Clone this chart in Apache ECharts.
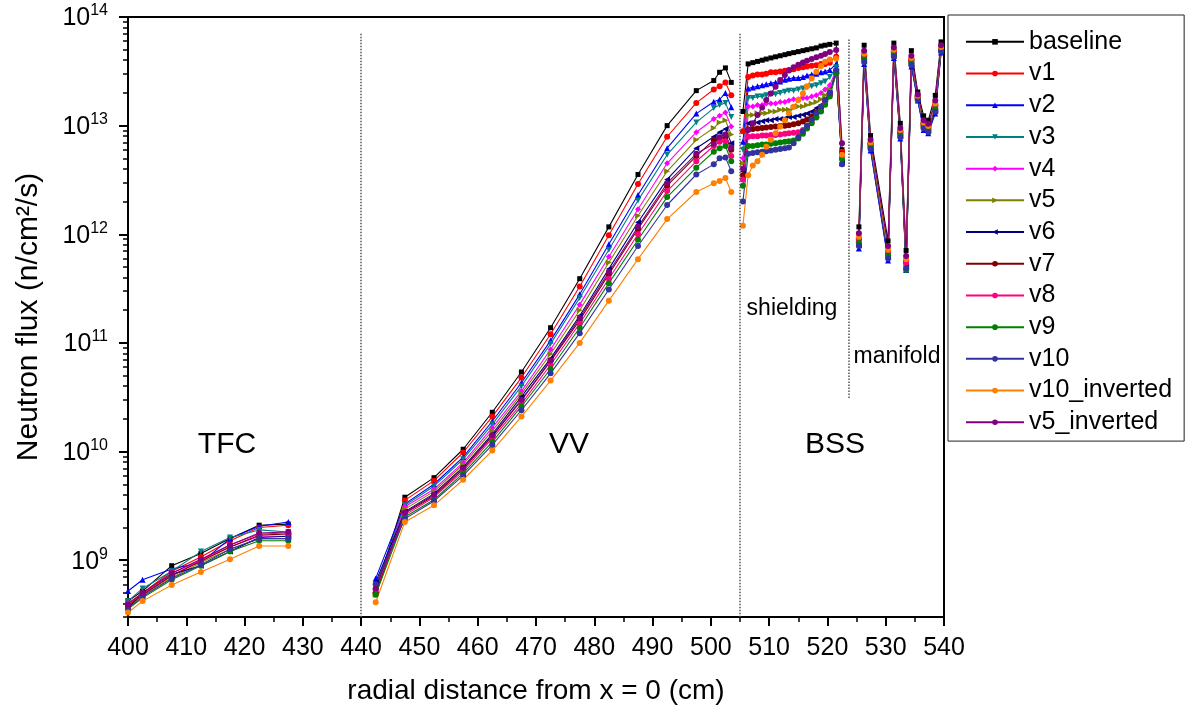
<!DOCTYPE html>
<html>
<head>
<meta charset="utf-8">
<title>Neutron flux</title>
<script src="https://cdn.jsdelivr.net/npm/echarts@6/dist/echarts.min.js"></script>
<style>
  html, body { margin: 0; padding: 0; background: #fff; }
  #chart { width: 1188px; height: 713px; }
</style>
</head>
<body>
<div id="chart"></div>
<script>
// radial positions (cm); 435 / 504.5 / 524 are gaps between the zones
const radius = [
  400, 402.5, 407.5, 412.5, 417.5, 422.5, 427.5, 435,
  442.5, 447.5, 452.5, 457.5, 462.5, 467.5, 472.5, 477.5, 482.5, 487.5, 492.5, 497.5, 500.5, 501.5, 502.5, 503.5, 504.5,
  505.5, 506.4, 507.2, 508.0, 508.8, 509.5, 510.3, 511.1, 511.9, 512.7, 513.4, 514.2, 515.0, 515.8, 516.5, 517.3, 518.1, 518.9, 519.6, 520.4, 521.5, 522.5, 524,
  525.4, 526.3, 527.4, 530.4, 531.4, 532.5, 533.5, 534.4, 535.5, 536.5, 537.3, 538.5, 539.5
];

// flux values per configuration (TFC | VV | shielding | manifold)
const baseline = [
  4.2e8, 5.2e8, 8.9e8, 1.15e9, 1.58e9, 2.1e9, 2.15e9, null,
  5.2e8, 3.8e9, 5.75e9, 1.05e10, 2.3e10, 5.4e10, 1.38e11, 3.9e11, 1.17e12, 3.55e12, 1.0e13, 2.1e13, 2.6e13, 3.1e13, 3.4e13, 2.5e13, null,
  1.35e13, 3.7e13, 3.8e13, 3.9e13, 4.0e13, 4.1e13, 4.2e13, 4.3e13, 4.4e13, 4.5e13, 4.6e13, 4.7e13, 4.8e13, 4.9e13, 5.0e13, 5.1e13, 5.2e13, 5.4e13, 5.5e13, 5.6e13, 5.75e13, 6.0e12, null,
  1.17e12, 5.5e13, 8.1e12, 8.7e11, 5.75e13, 1.05e13, 7.1e11, 4.9e13, 2.04e13, 1.23e13, 1.12e13, 1.9e13, 5.9e13
];
const v1 = [
  4.0e8, 5.0e8, 7.9e8, 1.07e9, 1.51e9, 2.0e9, 2.1e9, null,
  5.0e8, 3.55e9, 5.4e9, 9.8e9, 2.1e10, 4.8e10, 1.2e11, 3.3e11, 9.8e11, 2.9e12, 7.9e12, 1.62e13, 2.15e13, 2.3e13, 2.5e13, 1.9e13, null,
  8.9e12, 2.8e13, 2.9e13, 2.95e13, 2.95e13, 3.0e13, 3.1e13, 3.1e13, 3.15e13, 3.2e13, 3.25e13, 3.3e13, 3.4e13, 3.45e13, 3.5e13, 3.55e13, 3.6e13, 3.7e13, 3.7e13, 3.8e13, 4.3e13, 5.75e12, null,
  9.3e11, 4.5e13, 6.9e12, 7.1e11, 4.9e13, 8.9e12, 5.75e11, 4.1e13, 1.86e13, 1.06e13, 9.8e12, 1.57e13, 5.25e13
];
const v2 = [
  5.2e8, 6.6e8, 8.3e8, 9.5e8, 1.58e9, 2.05e9, 2.25e9, null,
  6.8e8, 3.3e9, 5.0e9, 8.9e9, 1.9e10, 4.3e10, 1.05e11, 2.8e11, 8.1e11, 2.3e12, 6.2e12, 1.29e13, 1.66e13, 1.74e13, 2.0e13, 1.48e13, null,
  7.1e12, 2.2e13, 2.25e13, 2.3e13, 2.35e13, 2.4e13, 2.45e13, 2.5e13, 2.55e13, 2.65e13, 2.7e13, 2.75e13, 2.75e13, 2.8e13, 2.9e13, 2.95e13, 3.0e13, 3.1e13, 3.15e13, 3.25e13, 3.7e13, 4.5e12, null,
  7.4e11, 3.7e13, 5.9e12, 5.75e11, 4.2e13, 7.6e12, 4.7e11, 3.5e13, 1.7e13, 9.1e12, 8.5e12, 1.29e13, 4.7e13
];
const v3 = [
  4.2e8, 5.5e8, 7.9e8, 1.2e9, 1.62e9, 1.9e9, 1.82e9, null,
  5.75e8, 3.2e9, 4.8e9, 8.5e9, 1.78e10, 4.0e10, 9.8e10, 2.6e11, 7.2e11, 2.05e12, 5.4e12, 1.07e13, 1.45e13, 1.55e13, 1.62e13, 1.2e13, null,
  6.0e12, 1.8e13, 1.8e13, 1.85e13, 1.85e13, 1.9e13, 1.95e13, 1.95e13, 2.0e13, 2.05e13, 2.1e13, 2.1e13, 2.15e13, 2.2e13, 2.25e13, 2.3e13, 2.35e13, 2.45e13, 2.55e13, 2.8e13, 3.45e13, 5.0e12, null,
  8.5e11, 4.2e13, 6.5e12, 6.5e11, 4.6e13, 8.35e12, 5.3e11, 3.85e13, 1.8e13, 1.0e13, 9.25e12, 1.45e13, 5.0e13
];
const v4 = [
  3.8e8, 4.8e8, 7.2e8, 1.0e9, 1.32e9, 1.66e9, 1.66e9, null,
  5.2e8, 3.1e9, 4.5e9, 7.9e9, 1.66e10, 3.6e10, 8.7e10, 2.25e11, 6.2e11, 1.7e12, 4.5e12, 8.7e12, 1.15e13, 1.23e13, 1.32e13, 9.8e12, null,
  5.0e12, 1.5e13, 1.5e13, 1.55e13, 1.55e13, 1.6e13, 1.6e13, 1.6e13, 1.65e13, 1.65e13, 1.7e13, 1.75e13, 1.75e13, 1.8e13, 1.8e13, 1.85e13, 1.9e13, 2.0e13, 2.15e13, 2.35e13, 3.25e13, 5.25e12, null,
  8.8e11, 4.3e13, 6.65e12, 6.7e11, 4.7e13, 8.6e12, 5.5e11, 3.95e13, 1.82e13, 1.02e13, 9.5e12, 1.5e13, 5.1e13
];
const v5 = [
  3.7e8, 4.7e8, 6.9e8, 9.5e8, 1.26e9, 1.58e9, 1.58e9, null,
  4.8e8, 2.95e9, 4.3e9, 7.6e9, 1.55e10, 3.4e10, 7.9e10, 2.0e11, 5.5e11, 1.48e12, 3.8e12, 7.4e12, 9.5e12, 1.07e13, 1.12e13, 8.3e12, null,
  4.5e12, 1.25e13, 1.25e13, 1.3e13, 1.3e13, 1.3e13, 1.35e13, 1.35e13, 1.4e13, 1.4e13, 1.4e13, 1.45e13, 1.5e13, 1.5e13, 1.55e13, 1.6e13, 1.65e13, 1.75e13, 1.9e13, 2.15e13, 3.15e13, 5.1e12, null,
  8.7e11, 4.25e13, 6.6e12, 6.65e11, 4.65e13, 8.5e12, 5.4e11, 3.9e13, 1.81e13, 1.01e13, 9.4e12, 1.48e13, 5.05e13
];
const v6 = [
  3.6e8, 5.0e8, 7.4e8, 8.9e8, 1.2e9, 1.62e9, 1.66e9, null,
  6.3e8, 2.8e9, 4.1e9, 7.2e9, 1.45e10, 3.2e10, 7.2e10, 1.78e11, 4.8e11, 1.29e12, 3.2e12, 6.2e12, 7.9e12, 8.7e12, 9.3e12, 6.9e12, null,
  3.8e12, 1.05e13, 1.07e13, 1.07e13, 1.1e13, 1.12e13, 1.12e13, 1.15e13, 1.15e13, 1.17e13, 1.2e13, 1.2e13, 1.23e13, 1.26e13, 1.29e13, 1.35e13, 1.45e13, 1.55e13, 1.75e13, 2.0e13, 3.15e13, 4.6e12, null,
  7.9e11, 3.9e13, 6.2e12, 6.1e11, 4.4e13, 8.0e12, 5.0e11, 3.65e13, 1.75e13, 9.5e12, 8.9e12, 1.36e13, 4.85e13
];
const v7 = [
  3.8e8, 4.8e8, 7.2e8, 9.8e8, 1.32e9, 1.7e9, 1.74e9, null,
  5.0e8, 2.7e9, 3.9e9, 6.9e9, 1.38e10, 2.95e10, 6.8e10, 1.62e11, 4.3e11, 1.12e12, 2.8e12, 5.25e12, 7.4e12, 7.4e12, 7.9e12, 6.0e12, null,
  3.5e12, 9.2e12, 9.3e12, 9.4e12, 9.5e12, 9.6e12, 9.7e12, 9.8e12, 9.9e12, 1.0e13, 1.01e13, 1.03e13, 1.05e13, 1.09e13, 1.14e13, 1.22e13, 1.33e13, 1.47e13, 1.67e13, 1.95e13, 3.07e13, 5.5e12, null,
  9.1e11, 4.4e13, 6.8e12, 6.9e11, 4.8e13, 8.8e12, 5.6e11, 4.05e13, 1.85e13, 1.04e13, 9.6e12, 1.53e13, 5.2e13
];
const v8 = [
  4.0e8, 4.9e8, 7.6e8, 1.0e9, 1.38e9, 1.74e9, 1.78e9, null,
  5.4e8, 2.6e9, 3.8e9, 6.6e9, 1.32e10, 2.75e10, 6.3e10, 1.51e11, 3.9e11, 1.0e12, 2.5e12, 4.7e12, 6.5e12, 7.1e12, 7.2e12, 5.25e12, null,
  3.2e12, 7.9e12, 8.0e12, 8.0e12, 8.1e12, 8.1e12, 8.2e12, 8.2e12, 8.3e12, 8.4e12, 8.5e12, 8.6e12, 8.7e12, 9.1e12, 9.8e12, 1.08e13, 1.21e13, 1.37e13, 1.6e13, 1.91e13, 3.03e13, 5.4e12, null,
  8.9e11, 4.35e13, 6.7e12, 6.8e11, 4.75e13, 8.6e12, 5.5e11, 4.0e13, 1.83e13, 1.03e13, 9.5e12, 1.51e13, 5.1e13
];
const v9 = [
  3.55e8, 4.5e8, 6.6e8, 8.9e8, 1.2e9, 1.51e9, 1.51e9, null,
  4.8e8, 2.5e9, 3.6e9, 6.3e9, 1.23e10, 2.6e10, 5.75e10, 1.38e11, 3.55e11, 8.9e11, 2.2e12, 4.1e12, 5.75e12, 6.2e12, 6.5e12, 4.7e12, null,
  2.8e12, 6.5e12, 6.5e12, 6.6e12, 6.7e12, 6.7e12, 6.8e12, 6.9e12, 7.0e12, 7.1e12, 7.2e12, 7.3e12, 7.6e12, 8.4e12, 9.4e12, 1.05e13, 1.19e13, 1.35e13, 1.56e13, 1.85e13, 3.03e13, 4.9e12, null,
  8.3e11, 4.1e13, 6.4e12, 6.4e11, 4.5e13, 8.2e12, 4.7e11, 3.8e13, 1.78e13, 9.8e12, 9.1e12, 1.42e13, 4.95e13
];
const v10 = [
  3.6e8, 4.6e8, 6.8e8, 9.1e8, 1.26e9, 1.58e9, 1.58e9, null,
  6.0e8, 2.4e9, 3.5e9, 6.0e9, 1.15e10, 2.4e10, 5.25e10, 1.23e11, 3.1e11, 7.8e11, 1.86e12, 3.55e12, 4.4e12, 5.0e12, 5.1e12, 3.8e12, null,
  2.0e12, 5.5e12, 5.6e12, 5.7e12, 5.75e12, 5.8e12, 5.9e12, 6.0e12, 6.1e12, 6.2e12, 6.3e12, 6.9e12, 7.8e12, 8.9e12, 1.0e13, 1.14e13, 1.3e13, 1.49e13, 1.72e13, 2.0e13, 3.25e13, 4.4e12, null,
  7.8e11, 3.85e13, 6.1e12, 6.0e11, 4.3e13, 7.8e12, 4.9e11, 3.6e13, 1.73e13, 9.4e12, 8.75e12, 1.34e13, 4.8e13
];
const v10Inverted = [
  3.3e8, 4.2e8, 5.9e8, 7.8e8, 1.02e9, 1.35e9, 1.35e9, null,
  4.1e8, 2.25e9, 3.2e9, 5.5e9, 1.02e10, 2.1e10, 4.5e10, 1.0e11, 2.45e11, 5.9e11, 1.38e12, 2.45e12, 2.95e12, 3.1e12, 3.3e12, 2.45e12, null,
  1.2e12, 3.5e12, 4.3e12, 4.7e12, 5.4e12, 6.4e12, 7.4e12, 8.5e12, 9.8e12, 1.12e13, 1.3e13, 1.49e13, 1.72e13, 1.98e13, 2.31e13, 2.72e13, 3.13e13, 3.54e13, 3.87e13, 4.07e13, 4.16e13, 5.4e12, null,
  9.5e11, 4.6e13, 7.0e12, 7.2e11, 5.0e13, 9.1e12, 5.9e11, 4.2e13, 1.88e13, 1.07e13, 9.9e12, 1.6e13, 5.3e13
];
const v5Inverted = [
  3.9e8, 5.0e8, 7.6e8, 1.02e9, 1.38e9, 1.78e9, 1.82e9, null,
  5.5e8, 2.75e9, 4.0e9, 7.1e9, 1.41e10, 3.0e10, 6.9e10, 1.7e11, 4.5e11, 1.17e12, 2.95e12, 5.5e12, 6.8e12, 7.8e12, 8.3e12, 6.3e12, null,
  4.0e12, 9.1e12, 1.05e13, 1.25e13, 1.47e13, 1.72e13, 1.98e13, 2.28e13, 2.63e13, 2.92e13, 3.21e13, 3.44e13, 3.64e13, 3.82e13, 3.96e13, 4.1e13, 4.25e13, 4.4e13, 4.56e13, 4.75e13, 4.97e13, 6.9e12, null,
  1.02e12, 4.9e13, 7.4e12, 7.8e11, 5.25e13, 9.5e12, 6.3e11, 4.4e13, 1.93e13, 1.12e13, 1.04e13, 1.7e13, 5.5e13
];

const seriesNames = ['baseline', 'v1', 'v2', 'v3', 'v4', 'v5', 'v6', 'v7', 'v8', 'v9', 'v10', 'v10_inverted', 'v5_inverted'];
const seriesValues = [baseline, v1, v2, v3, v4, v5, v6, v7, v8, v9, v10, v10Inverted, v5Inverted];
const seriesColors = ['#000000', '#ff0000', '#0000ff', '#008080', '#ff00ff', '#808000', '#000080', '#800000', '#ff0080', '#008000', '#3333a0', '#ff8000', '#800080'];
const seriesSymbols = ['rect', 'circle', 'triangle', 'triangle', 'diamond', 'triangle', 'triangle', 'circle', 'circle', 'circle', 'circle', 'circle', 'circle'];
const symbolRotates = [0, 0, 0, 180, 0, -90, 90, 0, 0, 0, 0, 0, 0];

// y axis ticks
const majorTicks = [1e9, 1e10, 1e11, 1e12, 1e13, 1e14];
const decades = [1e8, 1e9, 1e10, 1e11, 1e12, 1e13];
const mantissas = [2, 3, 4, 5, 6, 7, 8, 9];
const minorTicks = [];
decades.forEach(d => mantissas.forEach(m => minorTicks.push(m * d)));

// zone separators
const dividers = [440, 505];
const manifoldLine = { x: 523.7, from: 6.2e13, to: 3.1e10 };

const font = 'Liberation Sans, Arial, sans-serif';

let series = seriesNames.map((name, k) => ({
  name: name,
  type: 'line',
  yAxisIndex: 0,
  data: radius.map((x, i) => [x, seriesValues[k][i] === null ? '-' : seriesValues[k][i]]),
  connectNulls: false,
  symbol: seriesSymbols[k],
  symbolRotate: symbolRotates[k],
  symbolSize: seriesSymbols[k] === 'rect' ? 5 : 6,
  lineStyle: { width: 1.1, color: seriesColors[k] },
  itemStyle: { color: seriesColors[k] },
  emphasis: { disabled: true },
  animation: false
}));

series[0].markLine = {
  silent: true,
  symbol: 'none',
  animation: false,
  label: { show: false },
  lineStyle: { type: 'dotted', color: '#555', width: 1.5 },
  data: [
    [{ coord: [dividers[0], 7e13] }, { coord: [dividers[0], 3e8] }],
    [{ coord: [dividers[1], 7e13] }, { coord: [dividers[1], 3e8] }],
    [{ coord: [manifoldLine.x, manifoldLine.from] }, { coord: [manifoldLine.x, manifoldLine.to] }]
  ]
};

const myChart = echarts.init(document.getElementById('chart'));
myChart.setOption({
  animation: false,
  textStyle: { fontFamily: font },
  grid: {
    left: 128, right: 244, top: 17, bottom: 96,
    show: true, borderColor: '#000', borderWidth: 2
  },
  legend: {
    data: seriesNames,
    orient: 'vertical',
    left: 948,
    top: 15,
    padding: [11, 12, 3, 17],
    borderColor: '#222',
    borderWidth: 1,
    itemWidth: 58,
    itemHeight: 7,
    itemGap: 0,
    selectedMode: false,
    textStyle: { fontSize: 25, color: '#000', lineHeight: 31.7, fontFamily: font }
  },
  xAxis: {
    type: 'value',
    min: 400,
    max: 540,
    interval: 10,
    name: 'radial distance from x = 0 (cm)',
    nameLocation: 'middle',
    nameGap: 60,
    nameTextStyle: { fontSize: 28, color: '#000' },
    axisLine: { lineStyle: { color: '#000', width: 2 } },
    axisTick: { length: 9, lineStyle: { color: '#000', width: 2 } },
    minorTick: { show: true, splitNumber: 2, length: 5, lineStyle: { color: '#000', width: 1.5 } },
    axisLabel: { fontSize: 25, color: '#000', margin: 19 },
    splitLine: { show: false }
  },
  yAxis: [
    {
      type: 'log',
      min: 3e8,
      max: 1e14,
      name: 'Neutron flux (n/cm²/s)',
      nameLocation: 'middle',
      nameGap: 84,
      nameTextStyle: { fontSize: 30, color: '#000' },
      axisLine: { show: true, lineStyle: { color: '#000', width: 2 } },
      axisTick: { show: true, customValues: majorTicks, length: 9, lineStyle: { color: '#000', width: 2 } },
      axisLabel: {
        customValues: majorTicks,
        margin: 20,
        formatter: function (v) {
          const p = Math.log10(v);
          if (Math.abs(p - Math.round(p)) > 1e-6) return '';
          return '{b|10}{s|' + Math.round(p) + '}';
        },
        rich: {
          b: { fontSize: 25, color: '#000', lineHeight: 28, verticalAlign: 'bottom', fontFamily: font },
          s: { fontSize: 16, color: '#000', lineHeight: 16, verticalAlign: 'top', fontFamily: font }
        }
      },
      splitLine: { show: false }
    },
    {
      type: 'log',
      min: 3e8,
      max: 1e14,
      position: 'left',
      axisLine: { show: false },
      axisTick: { show: true, customValues: minorTicks, length: 5, lineStyle: { color: '#000', width: 1.5 } },
      axisLabel: { show: false },
      splitLine: { show: false }
    }
  ],
  graphic: [
    { type: 'text', x: 227, y: 445, silent: true, style: { text: 'TFC', fontSize: 30, fontFamily: font, fill: '#000', align: 'center', verticalAlign: 'middle' } },
    { type: 'text', x: 569, y: 445, silent: true, style: { text: 'VV', fontSize: 30, fontFamily: font, fill: '#000', align: 'center', verticalAlign: 'middle' } },
    { type: 'text', x: 835, y: 445, silent: true, style: { text: 'BSS', fontSize: 30, fontFamily: font, fill: '#000', align: 'center', verticalAlign: 'middle' } },
    { type: 'text', x: 792, y: 309, silent: true, style: { text: 'shielding', fontSize: 23, fontFamily: font, fill: '#000', align: 'center', verticalAlign: 'middle' } },
    { type: 'text', x: 897, y: 357, silent: true, style: { text: 'manifold', fontSize: 23, fontFamily: font, fill: '#000', align: 'center', verticalAlign: 'middle' } }
  ],
  series: series
});
</script>
</body>
</html>
